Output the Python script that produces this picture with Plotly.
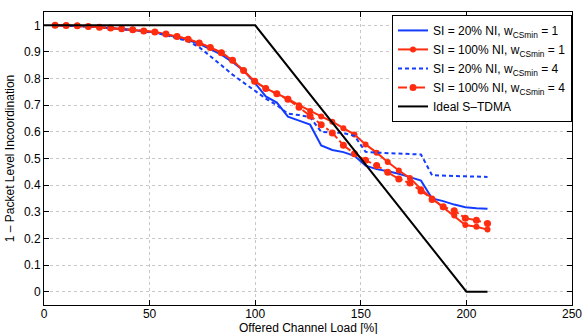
import plotly.graph_objects as go

load = [5.25, 10.5, 15.75, 21, 26.25, 31.5, 36.75, 42, 47.25, 52.5,
        57.75, 63, 68.25, 73.5, 78.75, 84, 89.25, 94.5, 99.75, 105,
        110.25, 115.5, 120.75, 126, 131.25, 136.5, 141.75, 147, 152.25, 157.5,
        162.75, 168, 173.25, 178.5, 183.75, 189, 194.25, 199.5, 204.75, 210]

si20_w1 = [1.0, 0.999, 0.998, 0.996, 0.993, 0.99, 0.986, 0.982, 0.978, 0.973,
           0.965, 0.956, 0.945, 0.93, 0.91, 0.89, 0.862, 0.83, 0.785, 0.733,
           0.71, 0.657, 0.642, 0.627, 0.549, 0.532, 0.524, 0.51, 0.473, 0.46,
           0.452, 0.443, 0.43, 0.417, 0.35, 0.34, 0.327, 0.317, 0.313, 0.311]

si100_w1 = [1.0, 0.999, 0.998, 0.996, 0.993, 0.99, 0.987, 0.983, 0.979, 0.975,
            0.967, 0.958, 0.948, 0.934, 0.917, 0.897, 0.869, 0.83, 0.79, 0.763,
            0.743, 0.724, 0.7, 0.678, 0.658, 0.638, 0.614, 0.59, 0.553, 0.522,
            0.487, 0.455, 0.427, 0.385, 0.35, 0.317, 0.286, 0.25, 0.244, 0.233]

si20_w4 = [1.0, 0.999, 0.998, 0.996, 0.993, 0.99, 0.986, 0.982, 0.977, 0.972,
           0.963, 0.952, 0.94, 0.918, 0.885, 0.85, 0.815, 0.785, 0.755, 0.725,
           0.7, 0.668, 0.663, 0.655, 0.6, 0.598, 0.596, 0.585, 0.525, 0.522,
           0.52, 0.519, 0.518, 0.515, 0.437, 0.435, 0.434, 0.433, 0.432, 0.431]

si100_w4 = [1.0, 0.999, 0.998, 0.996, 0.993, 0.99, 0.987, 0.983, 0.979, 0.975,
            0.967, 0.958, 0.948, 0.934, 0.917, 0.897, 0.869, 0.83, 0.79, 0.763,
            0.743, 0.722, 0.692, 0.66, 0.627, 0.596, 0.55, 0.518, 0.493, 0.474,
            0.448, 0.423, 0.408, 0.378, 0.346, 0.319, 0.304, 0.276, 0.268, 0.256]

ideal_x = [0, 100, 200, 210]
ideal_y = [1, 1, 0, 0]

x_ticks = [0, 50, 100, 150, 200, 250]
y_ticks = [0, 0.1, 0.2, 0.3, 0.4, 0.5, 0.6, 0.7, 0.8, 0.9, 1]
y_tick_text = ["0", "0.1", "0.2", "0.3", "0.4", "0.5", "0.6", "0.7", "0.8", "0.9", "1"]

BLUE = "rgb(20,60,255)"
RED = "rgb(255,45,15)"

fig = go.Figure()
fig.add_trace(go.Scatter(x=load, y=si20_w1, mode="lines",
                         line=dict(color=BLUE, width=2),
                         name="SI = 20% NI, w<sub>CSmin</sub> = 1"))
fig.add_trace(go.Scatter(x=load, y=si100_w1, mode="lines+markers",
                         line=dict(color=RED, width=2),
                         marker=dict(color=RED, size=6),
                         name="SI = 100% NI, w<sub>CSmin</sub> = 1"))
fig.add_trace(go.Scatter(x=load, y=si20_w4, mode="lines",
                         line=dict(color=BLUE, width=2, dash="4px,3px"),
                         name="SI = 20% NI, w<sub>CSmin</sub> = 4"))
fig.add_trace(go.Scatter(x=load, y=si100_w4, mode="lines+markers",
                         line=dict(color=RED, width=2, dash="dashdot"),
                         marker=dict(color=RED, size=7),
                         name="SI = 100% NI, w<sub>CSmin</sub> = 4"))
fig.add_trace(go.Scatter(x=ideal_x, y=ideal_y, mode="lines",
                         line=dict(color="black", width=2),
                         name="Ideal S\u2013TDMA"))

axis_common = dict(showline=True, linecolor="black", linewidth=1, mirror="ticks",
                   ticks="inside", ticklen=5, tickcolor="black",
                   showgrid=True, gridcolor="rgb(200,200,200)", griddash="dot", gridwidth=1,
                   zeroline=False, automargin=False,
                   tickfont=dict(size=12, color="black"))

fig.update_layout(
    width=583, height=334,
    margin=dict(l=44, r=11, t=12, b=29),
    paper_bgcolor="white", plot_bgcolor="white",
    font=dict(family="Liberation Sans, Arial, sans-serif", size=12, color="black"),
    showlegend=True,
    legend=dict(x=1.0, y=0.99, xanchor="right", yanchor="top",
                bgcolor="white", bordercolor="black", borderwidth=1,
                font=dict(size=12), tracegroupgap=0, itemwidth=30),
    annotations=[dict(text="Offered Channel Load [%]", xref="paper", yref="paper",
                      x=0.5, y=0, xanchor="center", yanchor="middle", yshift=-23,
                      showarrow=False, font=dict(size=12, color="black"))],
)
fig.update_xaxes(range=[0, 250], tickvals=x_ticks, ticklabelstandoff=-2, **axis_common)
fig.update_yaxes(range=[-0.05, 1.05], tickvals=y_ticks, ticktext=y_tick_text,
                 title=dict(text="1 \u2013 Packet Level Incoordination", standoff=6, font=dict(size=12)),
                 **axis_common)

fig.write_html("out.html", config={"displayModeBar": False},
               post_script="document.body.style.margin='0';document.body.style.overflow='hidden';")
